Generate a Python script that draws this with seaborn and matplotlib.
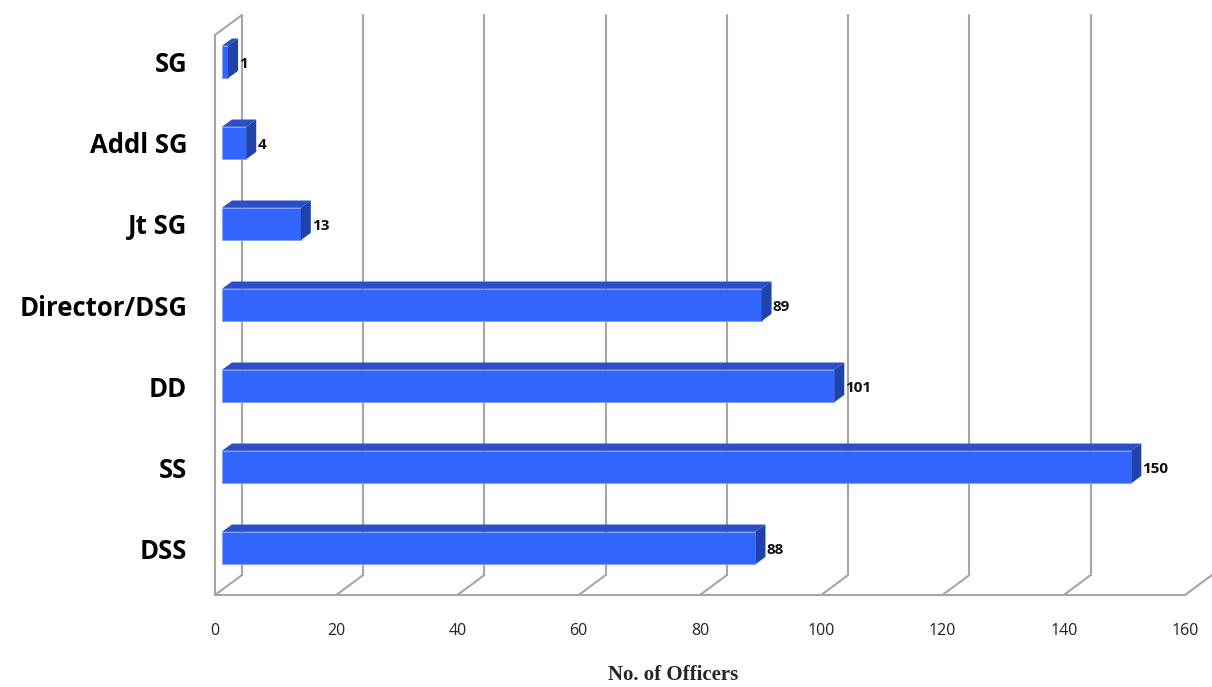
import matplotlib
matplotlib.use("Agg")
import matplotlib.pyplot as plt
from matplotlib.patches import Polygon
import seaborn as sns
import pandas as pd

# data
ranks = ["SG", "Addl SG", "Jt SG", "Director/DSG", "DD", "SS", "DSS"]
officers = [1, 4, 13, 89, 101, 150, 88]
x_ticks = [0, 20, 40, 60, 80, 100, 120, 140, 160]

df = pd.DataFrame({"rank": ranks, "officers": officers})

sns.set_style("white")
plt.rcParams["font.family"] = ["Open Sans", "DejaVu Sans"]

fig = plt.figure(figsize=(12.12, 6.87), dpi=100)
ax = fig.add_axes([215 / 1212, 1 - 595 / 687, 970 / 1212, 580 / 687])

sns.barplot(data=df, x="officers", y="rank", orient="h", color="#3366FF",
            width=0.4, saturation=1, edgecolor="#7FA0FF", linewidth=0.6, ax=ax)

y_front, y_top = 6.58, -0.58
wall_dx, wall_dy = 4.45, 0.247      # depth of the 3d box (data units)
bar_sx = 1.15                        # bars sit a little inside the box
bar_dx, bar_dy = 1.65, 0.09          # depth of bars
grid_c = "#A6A6A6"

# back wall gridlines + floor diagonals
for t in x_ticks:
    ax.plot([t, t + wall_dx], [y_front, y_front - wall_dy], color=grid_c, lw=1.5,
            clip_on=False, zorder=0)
    if t == 0:
        ax.plot([0, 0, wall_dx, wall_dx], [y_front, y_top + wall_dy, y_top, y_front - wall_dy],
                color=grid_c, lw=1.5, clip_on=False, zorder=0)
    elif t < 160:
        ax.plot([t + wall_dx, t + wall_dx], [y_front - wall_dy, y_top], color=grid_c,
                lw=1.5, clip_on=False, zorder=0)

# 3d faces of the bars
for p, v in zip(ax.patches, officers):
    p.set_x(p.get_x() + bar_sx)
    x0, y0, w, h = p.get_x(), p.get_y(), p.get_width(), p.get_height()
    top = Polygon([(x0, y0), (x0 + bar_dx, y0 - bar_dy), (x0 + w + bar_dx, y0 - bar_dy),
                   (x0 + w, y0)], closed=True, facecolor="#2A4FC6", edgecolor="none", zorder=3)
    side = Polygon([(x0 + w, y0), (x0 + w + bar_dx, y0 - bar_dy),
                    (x0 + w + bar_dx, y0 + h - bar_dy), (x0 + w, y0 + h)],
                   closed=True, facecolor="#2142A8", edgecolor="none", zorder=3)
    ax.add_patch(top)
    ax.add_patch(side)
    ax.text(x0 + w + bar_dx + 0.2, y0 + h / 2 + 0.03, str(v), ha="left", va="center",
            fontsize=11, fontweight="bold", color="#111111")

ax.set_xlim(0, 160)
ax.set_ylim(y_front, y_top)
ax.set_xticks(x_ticks)
ax.set_xlabel("")
ax.set_ylabel("")

for s in ["top", "right", "left"]:
    ax.spines[s].set_visible(False)
ax.spines["bottom"].set_color(grid_c)
ax.spines["bottom"].set_linewidth(1.5)

ax.tick_params(axis="x", direction="out", length=6, width=1.5, color=grid_c,
               labelsize=11.5, pad=14, labelcolor="#222222")
ax.tick_params(axis="y", length=0, pad=20, labelsize=18.5, labelcolor="black")
for lab in ax.get_yticklabels():
    lab.set_fontweight("bold")

fig.text(673 / 1212, 1 - 675 / 687, "No. of Officers", ha="center", va="center",
         fontsize=15, fontweight="bold", family="Liberation Serif")

fig.savefig("out.png", dpi=100)
